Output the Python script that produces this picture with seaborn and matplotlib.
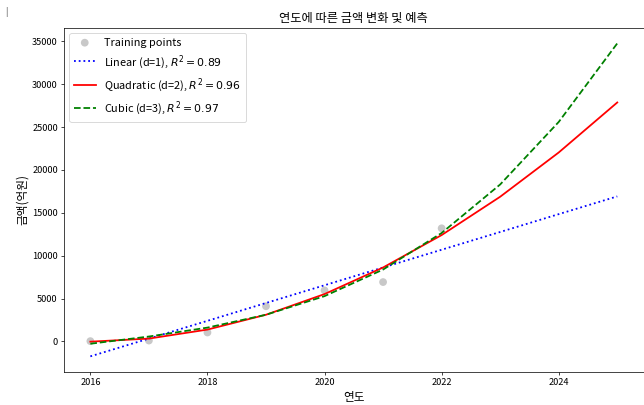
import matplotlib
matplotlib.use("Agg")
from matplotlib import pyplot as plt
import pandas as pd
import seaborn as sns

# training data
train_years = [2016, 2017, 2018, 2019, 2020, 2021, 2022]
train_amount = [35, 100, 1040, 4100, 5950, 6920, 13190]

# model predictions per year, 2016 - 2025
pred_years = [2016, 2017, 2018, 2019, 2020, 2021, 2022, 2023, 2024, 2025]
linear_pred = [-1740, 330, 2400, 4480, 6550, 8620, 10690, 12760, 14840, 16910]
quad_pred = [-30, 330, 1380, 3110, 5520, 8620, 12400, 16870, 22030, 27860]
cubic_pred = [-270, 570, 1610, 3110, 5280, 8380, 12640, 18300, 25590, 34750]

linear_label = 'Linear (d=1), $R^2 = 0.89$'
quad_label = 'Quadratic (d=2), $R^2 = 0.96$'
cubic_label = 'Cubic (d=3), $R^2 = 0.97$'

plt.rcParams['font.family'] = ['Noto Sans CJK KR', 'DejaVu Sans']
plt.rcParams['axes.unicode_minus'] = False

# **************************************************************************

df_train = pd.DataFrame({'year': train_years, 'amount': train_amount})
df_pred = pd.DataFrame({'year': pred_years, 'linear': linear_pred,
                        'quad': quad_pred, 'cubic': cubic_pred})

fig = plt.figure(figsize=(10, 6.289), dpi=64.4)
ax = fig.add_axes([0.0994, 0.0815, 0.9, 0.85])

sns.scatterplot(data=df_train, x='year', y='amount', color='#c8c8c8', s=75,
                edgecolor='none', label='Training points', ax=ax)
sns.lineplot(data=df_pred, x='year', y='linear', color='blue', linestyle=':',
             linewidth=2, label=linear_label, ax=ax)
sns.lineplot(data=df_pred, x='year', y='quad', color='red', linestyle='-',
             linewidth=2, label=quad_label, ax=ax)
sns.lineplot(data=df_pred, x='year', y='cubic', color='green', linestyle='--',
             linewidth=2, label=cubic_label, ax=ax)

ax.set_title('연도에 따른 금액 변화 및 예측', fontsize=13.7)
ax.set_xlabel('연도', fontsize=13)
ax.set_ylabel('금액(억원)', fontsize=13)
ax.set_xticks([2016, 2018, 2020, 2022, 2024])
ax.tick_params(labelsize=10.3)
ax.legend(loc='upper left', fontsize=12.2)

fig.text(0.008, 0.97, '|', color='#555555', fontsize=10, ha='left', va='center')

fig.savefig('out.png', dpi=64.4)
